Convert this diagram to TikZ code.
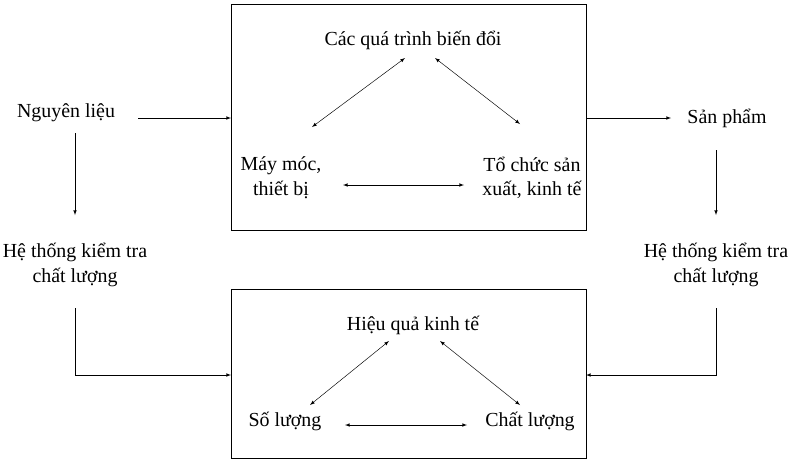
\documentclass[tikz,border=0pt]{standalone}
\usepackage{fontspec}
\setmainfont{Liberation Serif}
\begin{document}
\begin{tikzpicture}[x=0.03cm,y=-0.03cm,
  lbl/.style={inner sep=1pt,align=center,font=\fontsize{17}{21}\selectfont},
  arr/.style={-latex,thin},
  dbl/.style={latex-latex,thin}]
\useasboundingbox (0,0) rectangle (800,464);
\draw (231,4) rectangle (586,230);
\draw (231,289) rectangle (586,458);
\node[lbl] (bd) at (413,40) {Các quá trình biến đổi};
\node[lbl] (mm) at (281,178) {Máy móc,\\thiết bị};
\node[lbl] (tc) at (532,178) {Tổ chức sản\\xuất, kinh tế};
\node[lbl] (nl) at (66,113) {Nguyên liệu};
\node[lbl] (sp) at (727,118) {Sản phẩm};
\node[lbl] (htl) at (75,265) {Hệ thống kiểm tra\\chất lượng};
\node[lbl] (htr) at (716,265) {Hệ thống kiểm tra\\chất lượng};
\node[lbl] (hq) at (413,325) {Hiệu quả kinh tế};
\node[lbl] (sl) at (285,421) {Số lượng};
\node[lbl] (cl) at (530,421) {Chất lượng};
\coordinate (tin) at (231,118);
\coordinate (tout) at (586,118);
\coordinate (bin) at (231,375);
\coordinate (bout) at (586,375);
\coordinate (lc) at (75,375);
\coordinate (rc) at (716,375);
\draw[arr] (138,118) -- (tin);
\draw[arr] (tout) -- (671,118);
\draw[arr] (75,133) -- (75,215);
\draw[arr] (716,150) -- (716,215);
\draw[arr] (75,308) -- (lc) -- (bin);
\draw[arr] (716,308) -- (rc) -- (bout);
\draw[dbl] (405,58) -- (312,127);
\draw[dbl] (435,58) -- (520,124);
\draw[dbl] (343,185) -- (464,185);
\draw[dbl] (389,341) -- (310,405);
\draw[dbl] (440,341) -- (520,405);
\draw[dbl] (345,425) -- (467,425);
\end{tikzpicture}
\end{document}
